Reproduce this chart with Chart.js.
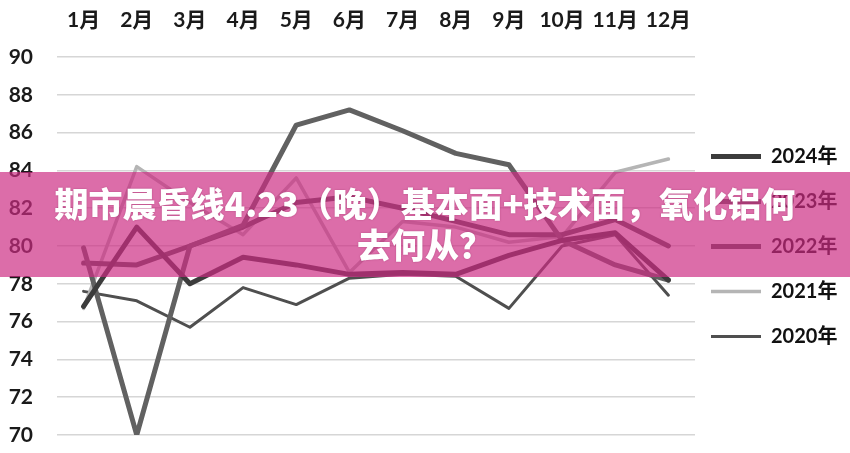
<!DOCTYPE html>
<html>
<head>
<meta charset="utf-8">
<script src="https://cdn.jsdelivr.net/npm/chart.js@4/dist/chart.umd.min.js"></script>
<style>
  html, body { margin: 0; padding: 0; background: #fff; }
  #wrap { position: relative; width: 850px; height: 453px; overflow: hidden; }
  #banner {
    position: absolute; left: 0; top: 172px; width: 850px; height: 105px;
    background: rgba(204, 44, 131, 0.69);
  }
  #banner div {
    width: 820px; margin: 0 auto; padding-top: 10px;
    text-align: center; color: #fff;
    font-family: "Noto Sans CJK SC", sans-serif; font-weight: 900;
    font-size: 34px; line-height: 41px; white-space: nowrap;
    text-shadow: 0 0 2px rgba(120, 20, 70, 0.4);
  }
</style>
</head>
<body>
<div id="wrap">
  <canvas id="myChart" width="850" height="453"></canvas>
  <div id="banner"><div>期市晨昏线4.23（晚）基本面+技术面，氧化铝何<br>去何从？</div></div>
</div>
<script>
// month labels and the five yearly series
const months = ["1月", "2月", "3月", "4月", "5月", "6月", "7月", "8月", "9月", "10月", "11月", "12月"];
const years = ["2024年", "2023年", "2022年", "2021年", "2020年"];

const y2024 = [76.8, 81.0, 78.0, 79.4, 79.0, 78.5, 78.6, 78.5, 79.5, 80.3, 80.7, 78.2];
const y2023 = [79.9, 70.0, 80.0, 81.1, 86.4, 87.2, 86.1, 84.9, 84.3, 80.3, 79.0, 78.2];
const y2022 = [79.1, 79.0, 80.0, 81.0, 82.3, 82.6, 82.0, 81.3, 80.6, 80.6, 81.4, 80.0];
const y2021 = [76.7, 84.2, 82.3, 80.6, 83.6, 78.6, 81.3, 81.0, 80.2, 80.5, 83.9, 84.6];
const y2020 = [77.6, 77.1, 75.7, 77.8, 76.9, 78.3, 78.5, 78.4, 76.7, 80.0, 80.6, 77.4];

const yTicks = [70, 72, 74, 76, 78, 80, 82, 84, 86, 88, 90];

const lineColors = ["#3c3c3c", "#616161", "#505050", "#b5b5b5", "#4f4f4f"];
const lineWidths = [5, 5, 5, 3.5, 3];

const seriesData = [y2024, y2023, y2022, y2021, y2020];

const labelFont = { family: "Lato, 'Noto Sans CJK SC', sans-serif", size: 21, weight: "bold" };
const legendFont = { family: "Lato, 'Noto Sans CJK SC', sans-serif", size: 20, weight: "bold" };

// nudge the legend block so it sits where the original has it
const legendNudge = {
  id: "legendNudge",
  afterLayout(chart) {
    const lg = chart.legend;
    lg.left -= 9; lg.right -= 9;
    lg.top += 29; lg.bottom += 29;
  },
};

const ctx = document.getElementById("myChart").getContext("2d");
const myChart = new Chart(ctx, {
  type: "line",
  data: {
    labels: months,
    datasets: years.map((name, i) => ({
      label: name,
      data: seriesData[i],
      borderColor: lineColors[i],
      backgroundColor: lineColors[i],
      borderWidth: lineWidths[i],
      pointRadius: 0,
      tension: 0,
      fill: false,
      borderCapStyle: "round",
      borderJoinStyle: "round",
    })),
  },
  options: {
    responsive: false,
    animation: false,
    layout: { padding: { left: 6, top: 0, right: 0, bottom: 18 } },
    scales: {
      x: {
        position: "top",
        offset: true,
        grid: { display: false },
        border: { display: false },
        ticks: { font: labelFont, color: "#1a1a1a", padding: 16, maxRotation: 0, autoSkip: false },
        afterFit: (axis) => { axis.height = 57; axis.paddingLeft = 0; axis.paddingRight = 0; },
      },
      y: {
        min: 70,
        max: 90,
        afterBuildTicks: (axis) => { axis.ticks = yTicks.map((v) => ({ value: v })); },
        grid: { color: "#d6d6d6", lineWidth: 1.5, drawTicks: false },
        border: { display: false },
        ticks: { font: labelFont, color: "#1a1a1a", padding: 24 },
        afterFit: (axis) => { axis.width = 51; axis.paddingTop = 0; axis.paddingBottom = 0; },
      },
    },
    plugins: {
      legend: {
        position: "right",
        align: "center",
        maxWidth: 155,
        labels: {
          usePointStyle: true,
          pointStyle: "line",
          pointStyleWidth: 50,
          font: legendFont,
          color: "#111",
          padding: 25,
        },
      },
      tooltip: { enabled: false },
    },
  },
  plugins: [legendNudge],
});
</script>
</body>
</html>
